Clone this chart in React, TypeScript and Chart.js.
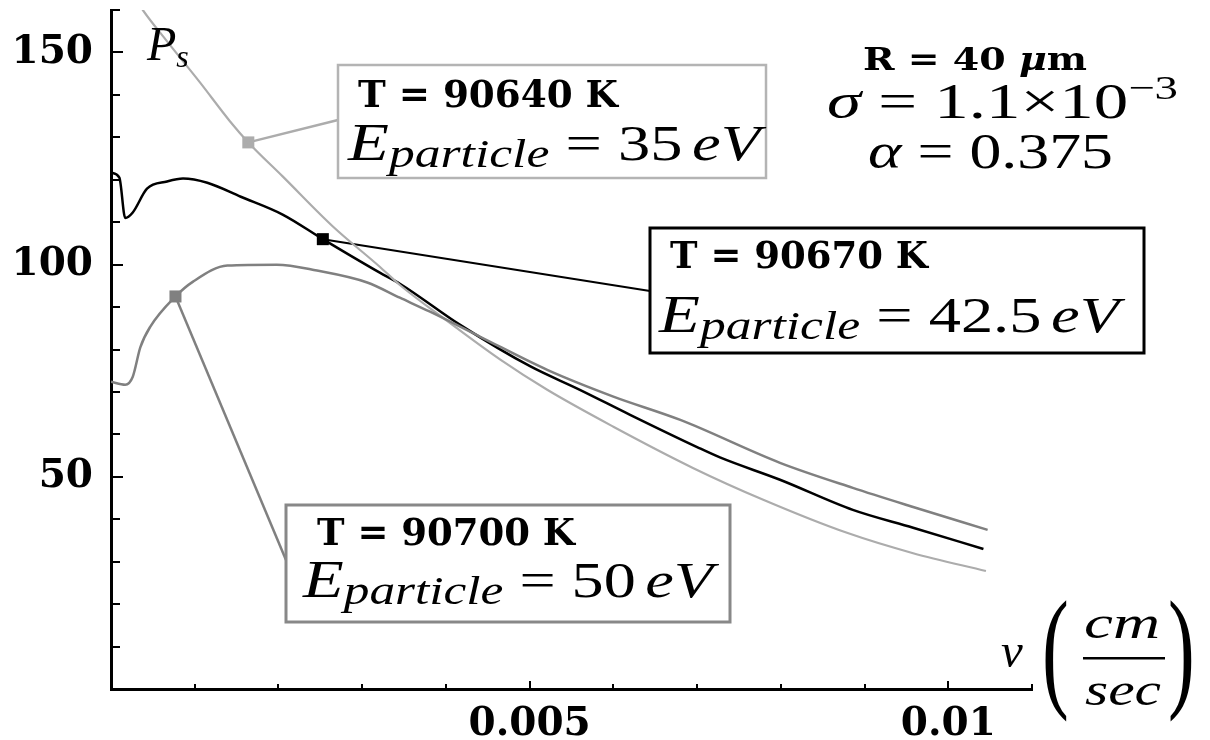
import React, { useEffect, useRef } from 'react';
import { Chart, registerables } from 'chart.js';

Chart.register(...registerables);

// Surface pressure P_s against velocity v (cm/sec) for three plasma temperatures
const vel35 = [0.0003, 0.00038, 0.00067, 0.00106, 0.00142, 0.00164, 0.00205, 0.00265, 0.00321, 0.00345, 0.00401, 0.00465, 0.00521, 0.006, 0.00695, 0.00779, 0.00879, 0.00958, 0.01045];
const ps35 = [162.5, 160, 152.6, 143, 133.8, 128.8, 120.8, 109, 99.5, 95.2, 86.8, 77.6, 70.5, 61.8, 52.1, 44.6, 36.8, 32, 27.8];

const vel425 = [0, 0.0001, 0.00017, 0.00026, 0.00043, 0.00067, 0.00086, 0.00115, 0.00155, 0.00205, 0.00253, 0.00321, 0.00345, 0.00417, 0.00501, 0.0056, 0.0062, 0.007, 0.00728, 0.00799, 0.00886, 0.00958, 0.01042];
const ps425 = [121.7, 120.5, 111, 112.3, 117.9, 119.6, 120.3, 119.3, 116, 111.8, 106, 98.1, 95.5, 85.8, 76, 70.5, 64.6, 57, 54.5, 49.3, 42.2, 38, 33];

const vel50 = [0, 0.00017, 0.00026, 0.00035, 0.00047, 0.00077, 0.00098, 0.00139, 0.00198, 0.00246, 0.00306, 0.00345, 0.00381, 0.00441, 0.00521, 0.006, 0.0068, 0.00799, 0.00886, 0.00958, 0.01047];
const ps50 = [72.4, 71.7, 73.6, 80.5, 85.4, 92.5, 96, 99.8, 100, 98.6, 95.8, 92.2, 88.9, 83, 75.2, 68.9, 63.4, 53.3, 47.4, 42.9, 37.5];

// Highlighted points that the callouts point at (35 eV, 42.5 eV, 50 eV)
const markerVel = [0.00164, 0.00253, 0.00077];
const markerPs = [128.8, 106, 92.5];

// Callout text
const temperatures = ['T = 90640 K', 'T = 90670 K', 'T = 90700 K'];
const energies = ['35', '42.5', '50'];

// Axis tick labels
const yTickValues = [50, 100, 150];
const yTickLabels = ['50', '100', '150'];
const xTickValues = [0.005, 0.01];
const xTickLabels = ['0.005', '0.01'];

const seriesColors = ['#acacac', '#000000', '#808080'];

const SERIF_BOLD_FAMILY = '"DejaVu Serif", "Liberation Serif", serif';
const MATH_FAMILY = '"Liberation Serif", "DejaVu Serif", serif';
const BOLD = (px: number) => `bold ${px}px ${SERIF_BOLD_FAMILY}`;
const BOLD_IT = (px: number) => `italic bold ${px}px ${SERIF_BOLD_FAMILY}`;
const IT = (px: number) => `italic ${px}px ${MATH_FAMILY}`;
const RM = (px: number) => `${px}px ${MATH_FAMILY}`;

type Seg = { t: string; f: string; dy?: number };

// Draws a run of mixed-font text from (x, y) on the baseline, optionally stretched to a width
function drawRun(ctx: CanvasRenderingContext2D, segs: Seg[], x: number, y: number, width?: number) {
  const widths = segs.map((s) => {
    ctx.font = s.f;
    return ctx.measureText(s.t).width;
  });
  const total = widths.reduce((a, b) => a + b, 0);
  const sx = width ? width / total : 1;
  ctx.save();
  ctx.translate(x, y);
  ctx.scale(sx, 1);
  ctx.textAlign = 'left';
  ctx.textBaseline = 'alphabetic';
  ctx.fillStyle = '#000';
  let cx = 0;
  segs.forEach((s, i) => {
    ctx.font = s.f;
    ctx.fillText(s.t, cx, s.dy || 0);
    cx += widths[i];
  });
  ctx.restore();
}

// Callout boxes: position and size in canvas pixels, text offsets inside the box
const callouts = [
  { x: 338, y: 65, w: 428, h: 113, attach: 55, color: '#b4b4b4', lw: 2.5, tX: 20, tY: 42, tW: 260, eX: 10, eY: 95, eW: 412 },
  { x: 650, y: 228, w: 494, h: 125, attach: 63, color: '#000000', lw: 3, tX: 20, tY: 40, tW: 258, eX: 9, eY: 104, eW: 460 },
  { x: 286, y: 505, w: 444, h: 117, attach: 55, color: '#888888', lw: 3, tX: 31, tY: 40, tW: 258, eX: 17, eY: 92, eW: 410 },
];

const overlay = {
  id: 'overlay',
  beforeDatasetsDraw(chart: any) {
    const ctx: CanvasRenderingContext2D = chart.ctx;
    const xs = chart.scales.x;
    const ys = chart.scales.y;
    ctx.save();
    callouts.forEach((c, i) => {
      ctx.strokeStyle = seriesColors[i];
      ctx.lineWidth = i === 1 ? 2 : 2.5;
      ctx.beginPath();
      ctx.moveTo(xs.getPixelForValue(markerVel[i]), ys.getPixelForValue(markerPs[i]));
      ctx.lineTo(c.x, c.y + c.attach);
      ctx.stroke();
    });
    ctx.restore();
  },
  afterDraw(chart: any) {
    const ctx: CanvasRenderingContext2D = chart.ctx;
    const xs = chart.scales.x;
    const ys = chart.scales.y;
    const area = chart.chartArea;
    ctx.save();

    // inward tick marks, longer at labelled values
    ctx.strokeStyle = '#000';
    ctx.lineWidth = 2;
    ys.ticks.forEach((t: any) => {
      if (t.value <= 0) return;
      const py = Math.round(ys.getPixelForValue(t.value));
      const major = Math.round(t.value) % 50 === 0;
      ctx.beginPath();
      ctx.moveTo(area.left, py);
      ctx.lineTo(area.left + (major ? 12 : 9), py);
      ctx.stroke();
    });
    xs.ticks.forEach((t: any) => {
      if (t.value <= 0) return;
      const px = Math.round(xs.getPixelForValue(t.value));
      const major = Math.round(t.value * 1e6) % 5000 === 0;
      ctx.beginPath();
      ctx.moveTo(px, area.bottom);
      ctx.lineTo(px, area.bottom - (major ? 8 : 5));
      ctx.stroke();
    });

    // callout boxes
    callouts.forEach((c, i) => {
      ctx.fillStyle = '#fff';
      ctx.fillRect(c.x, c.y, c.w, c.h);
      ctx.strokeStyle = c.color;
      ctx.lineWidth = c.lw;
      ctx.strokeRect(c.x, c.y, c.w, c.h);
      drawRun(ctx, [{ t: temperatures[i], f: BOLD(37) }], c.x + c.tX, c.y + c.tY, c.tW);
      drawRun(
        ctx,
        [
          { t: 'E', f: IT(52) },
          { t: 'particle', f: IT(40), dy: 7 },
          { t: ' = ', f: RM(50) },
          { t: energies[i], f: RM(50) },
          { t: ' ', f: RM(30) },
          { t: 'eV', f: IT(50) },
        ],
        c.x + c.eX,
        c.y + c.eY,
        c.eW
      );
    });

    // parameter block
    drawRun(ctx, [{ t: 'R = 40 ', f: BOLD(31) }, { t: 'μ', f: BOLD_IT(31) }, { t: 'm', f: BOLD(31) }], 863, 70, 224);
    drawRun(
      ctx,
      [
        { t: 'σ', f: IT(50) },
        { t: ' = 1.1×10', f: RM(50) },
        { t: '−3', f: RM(34), dy: -19 },
      ],
      827,
      118,
      351
    );
    drawRun(ctx, [{ t: 'α', f: IT(50) }, { t: ' = 0.375', f: RM(50) }], 868, 168, 245);

    // axis titles
    drawRun(ctx, [{ t: 'P', f: IT(48) }, { t: 's', f: IT(32), dy: 7 }], 147, 60);
    drawRun(ctx, [{ t: 'v', f: IT(49) }], 1001, 667);
    // big parentheses around the unit fraction
    ctx.fillStyle = '#000';
    ctx.font = RM(134);
    ctx.textBaseline = 'alphabetic';
    ctx.textAlign = 'left';
    ctx.save();
    ctx.translate(1042, 693);
    ctx.scale(0.6, 1);
    ctx.fillText('(', 0, 0);
    ctx.restore();
    ctx.save();
    ctx.translate(1168, 693);
    ctx.scale(0.6, 1);
    ctx.fillText(')', 0, 0);
    ctx.restore();
    drawRun(ctx, [{ t: 'cm', f: IT(46) }], 1084, 638, 76);
    ctx.fillStyle = '#000';
    ctx.fillRect(1083, 657, 82, 2.5);
    drawRun(ctx, [{ t: 'sec', f: IT(46) }], 1085, 705, 76);

    ctx.restore();
  },
};

export default function App() {
  const ref = useRef<HTMLCanvasElement | null>(null);

  useEffect(() => {
    if (!ref.current) return;
    const pts = (v: number[], p: number[]) => v.map((x, i) => ({ x, y: p[i] }));
    const tickFont = { family: SERIF_BOLD_FAMILY, weight: 'bold' as const, size: 39 };

    const chart = new Chart(ref.current, {
      type: 'line',
      data: {
        datasets: [
          {
            label: '50 eV',
            data: pts(vel50, ps50),
            borderColor: seriesColors[2],
            borderWidth: 2.5,
            pointRadius: 0,
            cubicInterpolationMode: 'monotone',
          },
          {
            label: '35 eV',
            data: pts(vel35, ps35),
            borderColor: seriesColors[0],
            borderWidth: 2.2,
            pointRadius: 0,
            cubicInterpolationMode: 'monotone',
          },
          {
            label: '42.5 eV',
            data: pts(vel425, ps425),
            borderColor: seriesColors[1],
            borderWidth: 2.5,
            pointRadius: 0,
            cubicInterpolationMode: 'monotone',
          },
          ...markerVel.map((v, i) => ({
            type: 'scatter' as const,
            label: 'marker ' + i,
            data: [{ x: v, y: markerPs[i] }],
            pointStyle: 'rect' as const,
            pointRadius: 8.5,
            pointBorderWidth: 0,
            backgroundColor: seriesColors[i],
            borderColor: seriesColors[i],
            showLine: false,
          })),
        ] as any,
      },
      options: {
        animation: false,
        responsive: false,
        devicePixelRatio: 1,
        layout: { padding: { top: 10, right: 178, left: 0, bottom: 0 } },
        plugins: { legend: { display: false }, tooltip: { enabled: false } },
        scales: {
          x: {
            type: 'linear',
            min: 0,
            max: 0.011,
            grid: { display: false, drawTicks: false },
            border: { display: true, color: '#000', width: 3 },
            ticks: {
              stepSize: 0.001,
              autoSkip: false,
              maxRotation: 0,
              padding: 12,
              color: '#000',
              font: tickFont,
              callback: (val: any) => {
                const k = xTickValues.findIndex((t) => Math.abs(t - Number(val)) < 1e-7);
                return k >= 0 ? xTickLabels[k] : '';
              },
            },
            afterFit: (s: any) => {
              s.height = 51;
              s.paddingLeft = 0;
              s.paddingRight = 0;
            },
          },
          y: {
            type: 'linear',
            min: 0,
            max: 160,
            grid: { display: false, drawTicks: false },
            border: { display: true, color: '#000', width: 3 },
            ticks: {
              stepSize: 10,
              autoSkip: false,
              padding: 18,
              color: '#000',
              font: tickFont,
              callback: (val: any) => {
                const k = yTickValues.indexOf(Math.round(Number(val)));
                return k >= 0 ? yTickLabels[k] : '';
              },
            },
            afterFit: (s: any) => {
              s.width = 111;
              s.paddingTop = 0;
              s.paddingBottom = 0;
            },
          },
        },
      },
      plugins: [overlay],
    });

    return () => chart.destroy();
  }, []);

  return (
    <div style={{ position: 'fixed', left: 0, top: 0, width: 1210, height: 740, background: '#fff' }}>
      <canvas ref={ref} width={1210} height={740} style={{ display: 'block' }} />
    </div>
  );
}
